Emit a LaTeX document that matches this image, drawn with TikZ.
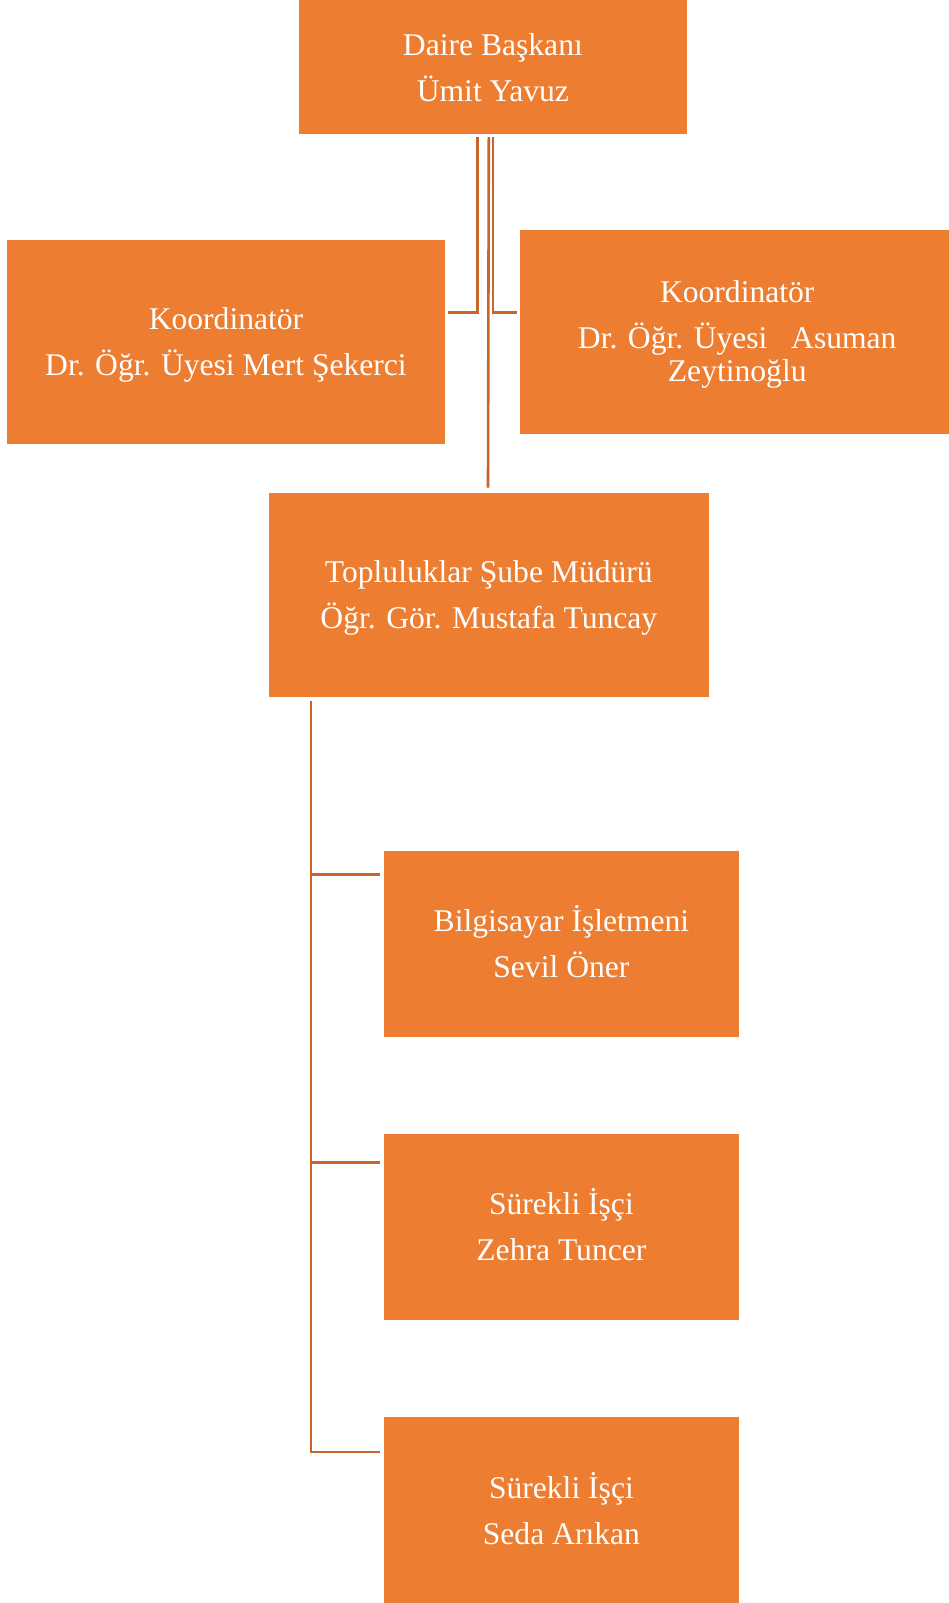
\documentclass[tikz,border=0pt]{standalone}
\usepackage{fontspec}
\setmainfont{Liberation Serif}
\definecolor{boxorange}{HTML}{ED7D31}
\definecolor{lineorange}{HTML}{C9652B}
\begin{document}
\begin{tikzpicture}[x=1pt,y=-1pt,
  box/.style={fill=boxorange, draw=none, inner sep=0pt},
  txt/.style={inner sep=0pt, text=white, align=center,
    font=\fontsize{31.6}{46}\selectfont},
  conn/.style={draw=lineorange, line width=2.6pt}]
\useasboundingbox (0,0) rectangle (949,1603);
\fill[white] (0,0) rectangle (949,1603);
\node[box, minimum width=388.6pt, minimum height=134pt] (top) at (492.9,67) {};
\node[box, minimum width=437.6pt, minimum height=203.5pt] (left) at (226,342) {};
\node[box, minimum width=429.5pt, minimum height=203.6pt] (right) at (734.25,331.8) {};
\node[box, minimum width=439.7pt, minimum height=204.5pt] (mid) at (488.85,595.15) {};
\node[box, minimum width=355.8pt, minimum height=186.2pt] (b4) at (561.4,943.9) {};
\node[box, minimum width=355.8pt, minimum height=186.2pt] (b5) at (561.4,1227) {};
\node[box, minimum width=355.8pt, minimum height=186.2pt] (b6) at (561.4,1510.3) {};
\node[txt] (ttop) at ([yshift=-1pt]top.center) {Daire Başkanı\\Ümit Yavuz};
\node[txt] (tleft) at ([yshift=-3pt]left.center) {Koordinatör\\Dr. Öğr. Üyesi Mert Şekerci};
\node[txt] (tright) at ([xshift=3pt,yshift=-2.5pt]right.center) {Koordinatör\\Dr. Öğr. Üyesi\ \ \ Asuman\\[-13.3pt]Zeytinoğlu};
\node[txt] (tmid) at ([yshift=-3pt]mid.center) {Topluluklar Şube Müdürü\\Öğr. Gör. Mustafa Tuncay};
\node[txt] (tb4) at ([yshift=2pt]b4.center) {Bilgisayar İşletmeni\\Sevil Öner};
\node[txt] (tb5) at ([yshift=2pt]b5.center) {Sürekli İşçi\\Zehra Tuncer};
\node[txt] (tb6) at ([yshift=2pt]b6.center) {Sürekli İşçi\\Seda Arıkan};
% connectors from top
\draw[conn] ([xshift=-15.4pt,yshift=-3pt]top.south) |- ([xshift=2.5pt,yshift=29.3pt]left.east);
\draw[conn] ([xshift=0pt,yshift=-3pt]top.south) |- ([xshift=-2.8pt,yshift=19.1pt]right.west);
\draw[conn] ([xshift=-4.1pt,yshift=-3pt]top.south) -- ([xshift=-0.85pt,yshift=5pt]mid.north);
% connectors from mid
\draw[conn] ([xshift=-178pt,yshift=-3pt]mid.south) |- ([xshift=-3pt,yshift=69.6pt]b4.west);
\draw[conn] ([xshift=-178pt,yshift=-3pt]mid.south) |- ([xshift=-3pt,yshift=64.3pt]b5.west);
\draw[conn] ([xshift=-178pt,yshift=-3pt]mid.south) |- ([xshift=-3pt,yshift=58.3pt]b6.west);
\end{tikzpicture}
\end{document}
